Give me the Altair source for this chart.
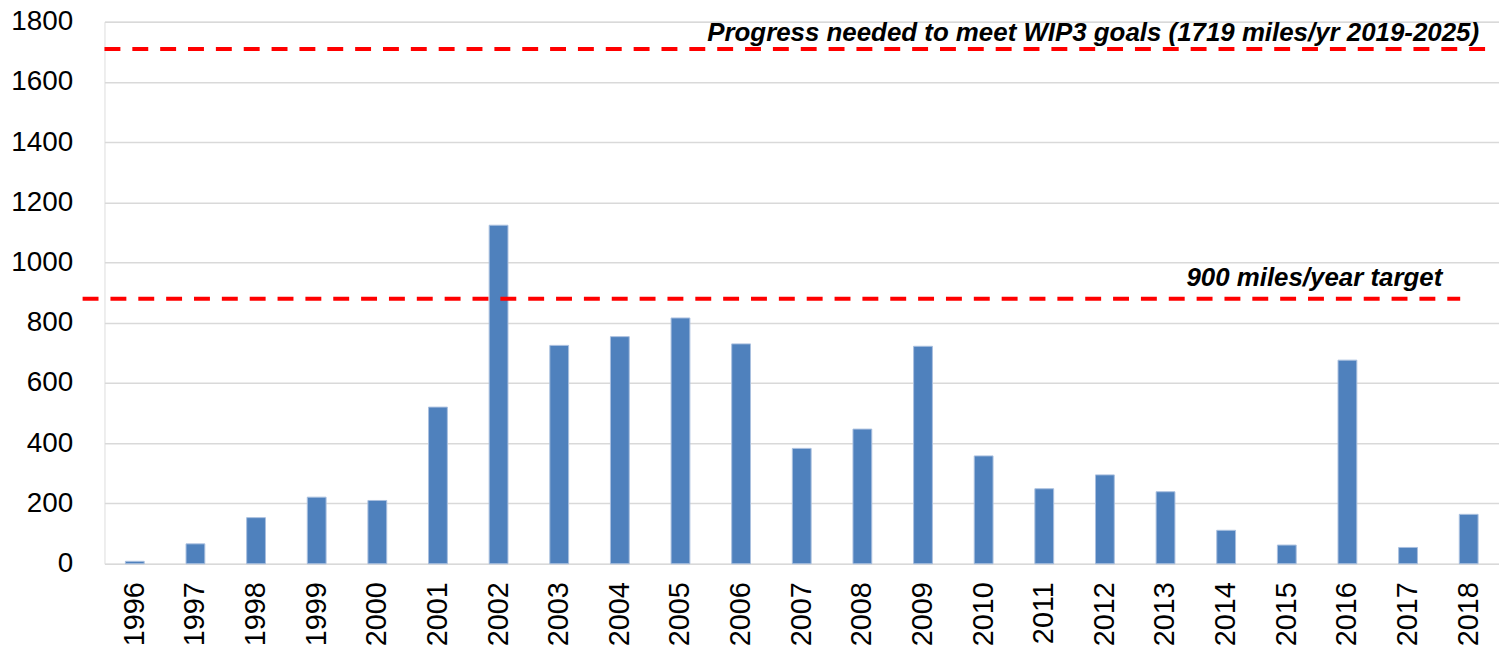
import altair as alt
import pandas as pd

years = [str(y) for y in range(1996, 2019)]
miles = [8, 66, 153, 221, 210, 520, 1124, 725, 754, 816, 730, 383, 447, 722,
         358, 249, 295, 239, 111, 62, 676, 54, 164]

goal_value = [1709]
goal_label = ["Progress needed to meet WIP3 goals (1719 miles/yr 2019-2025)"]
target_value = [880]
target_label = ["900 miles/year target"]
y_ticks = [0, 200, 400, 600, 800, 1000, 1200, 1400, 1600, 1800]

W = 1402
H = 545
FONT = "Liberation Sans"

df = pd.DataFrame({"year": years, "miles": miles})
goal_df = pd.DataFrame({"v": goal_value, "label": goal_label})
target_df = pd.DataFrame({"v": target_value, "label": target_label})

y_scale = alt.Scale(domain=[0, 1800], nice=False)

bars = alt.Chart(df).mark_bar(
    color="#4F81BD", stroke="#A9C0DF", strokeWidth=1
).encode(
    x=alt.X(
        "year:N",
        sort=years,
        scale=alt.Scale(paddingInner=0.69, paddingOuter=0.345),
        axis=alt.Axis(
            title=None, labelAngle=270, labelFontSize=29, labelFont=FONT,
            labelColor="#000000", ticks=False, domain=False, labelPadding=18,
            grid=False,
        ),
    ),
    y=alt.Y(
        "miles:Q",
        scale=y_scale,
        axis=alt.Axis(
            title=None, values=y_ticks, format="d", grid=True,
            gridColor="#D9D9D9", gridWidth=1.5, ticks=False, domain=False,
            labelPadding=32, labelFontSize=28, labelFont=FONT,
            labelColor="#000000",
        ),
    ),
)

goal_rule = alt.Chart(goal_df).mark_rule(
    color="#FF0000", strokeWidth=4, strokeDash=[16, 12]
).encode(
    y=alt.Y("v:Q", scale=y_scale),
    x=alt.value(0), x2=alt.value(1389),
)

target_rule = alt.Chart(target_df).mark_rule(
    color="#FF0000", strokeWidth=4, strokeDash=[16, 12]
).encode(
    y=alt.Y("v:Q", scale=y_scale),
    x=alt.value(-22), x2=alt.value(1363),
)

goal_text = alt.Chart(goal_df).mark_text(
    align="right", baseline="alphabetic", dy=-8, font=FONT,
    fontSize=26, fontStyle="italic", fontWeight="bold", color="#000000",
).encode(
    y=alt.Y("v:Q", scale=y_scale),
    x=alt.value(1382),
    text="label:N",
)

target_text = alt.Chart(target_df).mark_text(
    align="right", baseline="alphabetic", dy=-13, font=FONT,
    fontSize=26, fontStyle="italic", fontWeight="bold", color="#000000",
).encode(
    y=alt.Y("v:Q", scale=y_scale),
    x=alt.value(1345),
    text="label:N",
)

chart = alt.layer(bars, goal_rule, target_rule, goal_text, target_text).properties(
    width=W, height=H,
    autosize=alt.AutoSizeParams(type="none"),
    padding={"left": 97, "top": 12, "right": 0, "bottom": 80},
).configure_view(stroke=None).configure(background="white")

chart.save("out.html", embed_options={"renderer": "svg", "actions": False})
